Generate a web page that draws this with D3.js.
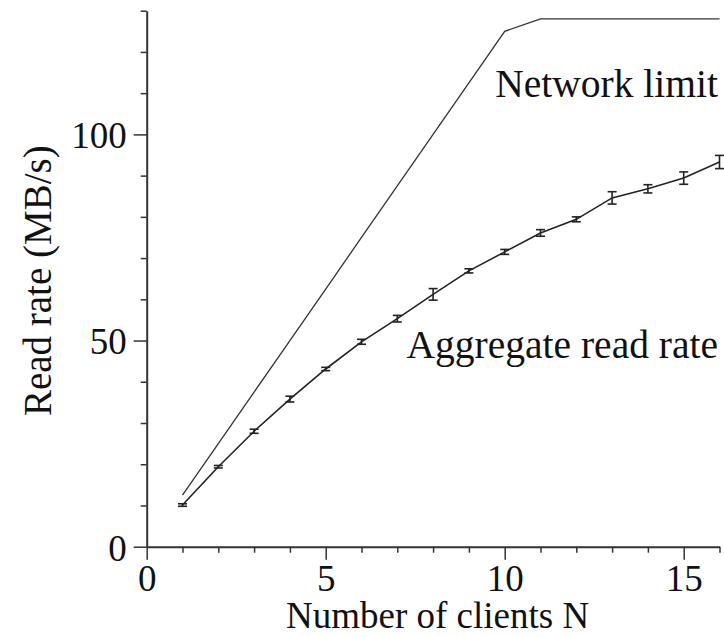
<!DOCTYPE html>
<html>
<head>
<meta charset="utf-8">
<script src="https://cdn.jsdelivr.net/npm/d3@7"></script>
<style>
	body{margin:0;background:#fff;}
	svg text{font-family:"Liberation Serif","Times New Roman",Tinos,Times !important;}
</style>
</head>
<body>
<script>
//Data
const clients = [1,2,3,4,5,6,7,8,9,10,11,12,13,14,15,16];
const readRate = [10.1,19.4,28.0,35.8,43.1,49.7,55.3,61.2,66.9,71.5,76.1,79.4,84.6,86.8,89.4,93.3];
const readErr = [0.3,0.3,0.5,0.7,0.4,0.6,0.8,1.4,0.5,0.6,0.8,0.6,1.5,1.0,1.5,1.6];
const networkLimit = [12.5,25,37.5,50,62.5,75,87.5,100,112.5,125,128,128,128,128,128,128];

const xMajor = [0,5,10,15];
const xMinor = [1,2,3,4,6,7,8,9,11,12,13,14,16];
const yMajor = [0,50,100];
const yMinor = [10,20,30,40,60,70,80,90,110,120,130];

const fontFam = '"Liberation Serif","Times New Roman",Tinos,Times';

const width = 724, height = 637;
const margin = {t:10.7,r:4.5,b:90.3,l:146.7};
const w = width - margin.l - margin.r;
const h = height - margin.t - margin.b;

const svg = d3.select('body').append('svg')
	.attr('width',width)
	.attr('height',height);

const plot = svg.append('g')
	.attr('transform',`translate(${margin.l},${margin.t})`);

const scaleX = d3.scaleLinear().domain([0,16]).range([0,w]);
const scaleY = d3.scaleLinear().domain([0,130]).range([h,0]);

function styleAxis(g){
	g.attr('font-family',fontFam);
	g.select('.domain').attr('stroke','#333').attr('stroke-width',2);
	g.selectAll('line').attr('stroke','#333').attr('stroke-width',1.5);
	g.selectAll('text')
		.style('font-family',fontFam)
		.attr('font-size',37)
		.attr('fill','#111');
}

//Axes: minor ticks first, then major with labels
plot.append('g')
	.attr('transform',`translate(0,${h})`)
	.call(d3.axisBottom(scaleX).tickValues(xMinor).tickSize(6).tickFormat(''))
	.call(styleAxis)
	.call(g => g.select('.domain').remove());

plot.append('g')
	.attr('transform',`translate(0,${h})`)
	.call(d3.axisBottom(scaleX).tickValues(xMajor).tickSize(13).tickSizeOuter(0).tickPadding(5))
	.call(styleAxis)
	.call(g => g.selectAll('text').attr('dy','0.72em'));

plot.append('g')
	.call(d3.axisLeft(scaleY).tickValues(yMinor).tickSize(6).tickFormat(''))
	.call(styleAxis)
	.call(g => g.select('.domain').remove());

plot.append('g')
	.call(d3.axisLeft(scaleY).tickValues(yMajor).tickSize(13).tickSizeOuter(0).tickPadding(7))
	.call(styleAxis)
	.call(g => g.selectAll('text').attr('dy','0.36em'));

//Lines
const line = d3.line()
	.x((d,i) => scaleX(clients[i]))
	.y(d => scaleY(d));

plot.append('path')
	.datum(networkLimit)
	.attr('d',line)
	.attr('fill','none')
	.attr('stroke','#333')
	.attr('stroke-width',1.3);

plot.append('path')
	.datum(readRate)
	.attr('d',line)
	.attr('fill','none')
	.attr('stroke','#222')
	.attr('stroke-width',1.6);

//Error bars
const bars = plot.selectAll('.err')
	.data(readRate)
	.enter()
	.append('g')
	.attr('class','err')
	.attr('stroke','#222')
	.attr('stroke-width',1.6);

bars.append('line')
	.attr('x1',(d,i) => scaleX(clients[i]))
	.attr('x2',(d,i) => scaleX(clients[i]))
	.attr('y1',(d,i) => scaleY(d - readErr[i]))
	.attr('y2',(d,i) => scaleY(d + readErr[i]));
bars.append('line')
	.attr('x1',(d,i) => scaleX(clients[i]) - 4.5)
	.attr('x2',(d,i) => scaleX(clients[i]) + 4.5)
	.attr('y1',(d,i) => scaleY(d - readErr[i]))
	.attr('y2',(d,i) => scaleY(d - readErr[i]));
bars.append('line')
	.attr('x1',(d,i) => scaleX(clients[i]) - 4.5)
	.attr('x2',(d,i) => scaleX(clients[i]) + 4.5)
	.attr('y1',(d,i) => scaleY(d + readErr[i]))
	.attr('y2',(d,i) => scaleY(d + readErr[i]));

//Annotations and titles
function label(text,size){
	return svg.append('text')
		.style('font-family',fontFam)
		.attr('font-size',size)
		.attr('fill','#111')
		.text(text);
}

label('Network limit',39.5)
	.attr('x',718).attr('y',97)
	.attr('text-anchor','end');

label('Aggregate read rate',39.5)
	.attr('x',718).attr('y',358)
	.attr('text-anchor','end');

label('Number of clients N',37)
	.attr('x',margin.l + scaleX(8) + 4.5).attr('y',628)
	.attr('text-anchor','middle');

label('Read rate (MB/s)',39)
	.attr('transform',`translate(51,${margin.t + h/2 + 2}) rotate(-90)`)
	.attr('text-anchor','middle');
</script>
</body>
</html>
